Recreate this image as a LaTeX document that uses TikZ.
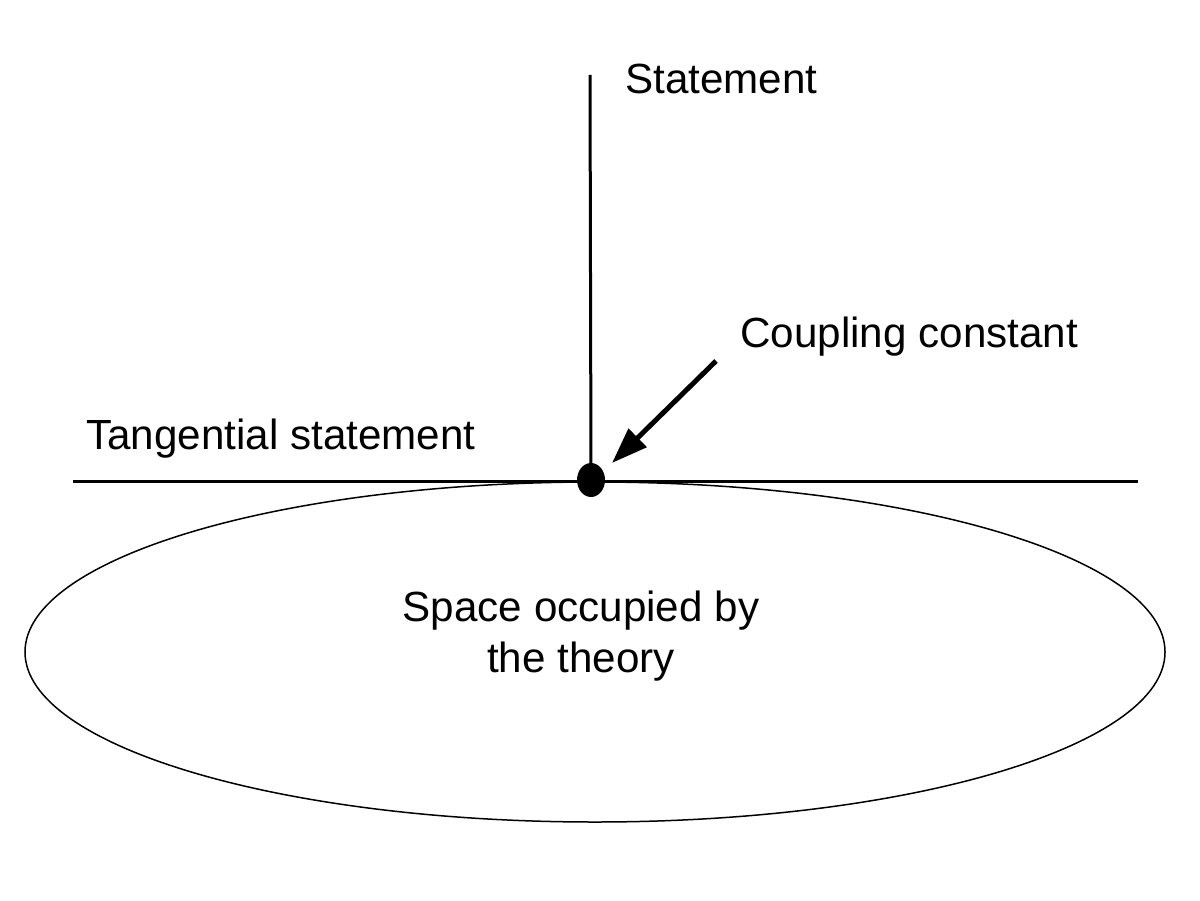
\documentclass[tikz,border=0pt]{standalone}
\usepackage{fontspec}
\setmainfont{Liberation Sans}
\usepackage{tikz}
\usetikzlibrary{shapes,arrows,arrows.meta,positioning}
\tikzstyle{label} = [font=\fontsize{24}{29}\selectfont, inner sep=0pt]
\tikzstyle{axis} = [line width=0.06cm]
\tikzstyle{punto} = [ellipse, fill=black, minimum width=0.56cm, minimum height=0.68cm, inner sep=0pt]
\tikzstyle{teoria} = [ellipse, draw, line width=0.03cm, minimum width=22.8cm, minimum height=6.8cm]
\tikzstyle{flecha} = [line width=0.1cm, -{Triangle[length=0.72cm,width=0.5cm]}]

\begin{document}
\begin{tikzpicture}
	\useasboundingbox (0,0) rectangle (24,18);
	\node [teoria] (space) at (11.9,4.96) {};
	\node [label, align=center, anchor=base] (spacetext) at (11.62,4.56) {Space occupied by\\the theory};
	\coordinate (tanleft) at (1.46,8.38);
	\coordinate (tanright) at (22.76,8.38);
	\coordinate (stattop) at (11.8,16.5);
	\coordinate (arrowtail) at (14.32,10.78);
	\draw [axis] (tanleft) -- (tanright);
	\node [punto] (coupling) at (11.82,8.4) {};
	\draw [axis] (stattop) -- (coupling.center);
	\draw [flecha] (arrowtail) -- (12.24,8.74);
	\node [label, anchor=base west] (statement) at (12.5,16.12) {Statement};
	\node [label, anchor=base west] (couplingtext) at (14.8,11.06) {Coupling constant};
	\node [label, anchor=base west] (tangential) at (1.72,9.02) {Tangential statement};
\end{tikzpicture}
\end{document}
